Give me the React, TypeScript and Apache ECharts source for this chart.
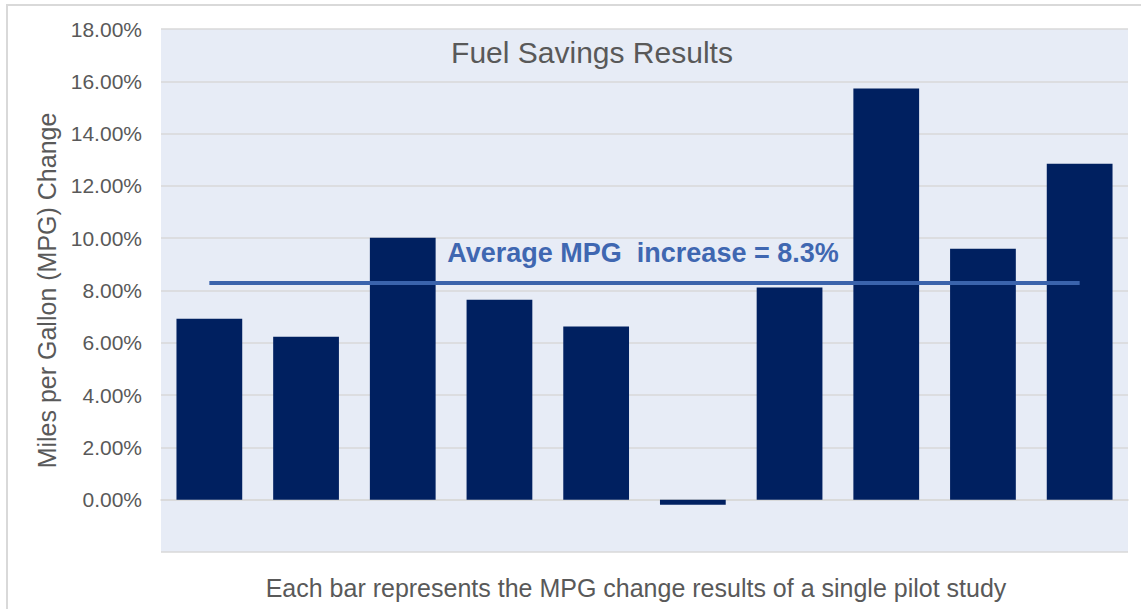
import React, { useEffect, useRef } from "react";
import * as echarts from "echarts";

const categories = ["1", "2", "3", "4", "5", "6", "7", "8", "9", "10"];
const mpgChange = [0.0692, 0.0623, 0.1002, 0.0765, 0.0662, -0.0019, 0.0811, 0.1572, 0.096, 0.1285];
const averageIncrease = 0.083;
const yTicks = { min: -0.02, max: 0.18, interval: 0.02 };

const FONT = "'Liberation Sans', Arial, sans-serif";
const GREY = "#595959";

export default function App() {
  const ref = useRef<HTMLDivElement>(null);
  useEffect(() => {
    const chart = echarts.init(ref.current!, null, { renderer: "svg" });
    chart.setOption({
      animation: false,
      textStyle: { fontFamily: FONT },
      grid: {
        left: 161,
        right: 13,
        top: 29,
        bottom: 57,
        show: true,
        backgroundColor: "#E7ECF6",
        borderWidth: 0,
      },
      xAxis: {
        type: "category",
        data: categories,
        axisLine: { show: true, lineStyle: { color: "#D9D9D9", width: 1.5 } },
        axisTick: { show: false },
        axisLabel: { show: false },
      },
      yAxis: {
        type: "value",
        min: yTicks.min,
        max: yTicks.max,
        interval: yTicks.interval,
        axisLine: { show: false },
        axisTick: { show: false },
        splitLine: { lineStyle: { color: "#D9D9D9", width: 1.5 } },
        axisLabel: {
          color: GREY,
          fontSize: 21,
          fontFamily: FONT,
          margin: 19,
          formatter: (v: number) => (v < -0.001 ? "" : (v * 100).toFixed(2) + "%"),
        },
        name: "Miles per Gallon (MPG) Change",
        nameLocation: "middle",
        nameGap: 101,
        nameRotate: 90,
        nameTextStyle: { color: GREY, fontSize: 25, fontFamily: FONT },
      },
      series: [
        {
          type: "bar",
          data: mpgChange,
          barWidth: "68%",
          itemStyle: { color: "#002060" },
          markLine: {
            symbol: "none",
            silent: true,
            lineStyle: { color: "#3A63AC", width: 4, type: "solid" },
            label: { show: false },
            data: [
              [
                { coord: [0, averageIncrease] },
                { coord: [categories.length - 1, averageIncrease] },
              ],
            ],
          },
        },
      ],
      graphic: [
        {
          type: "rect",
          shape: { x: 7, y: 5, width: 1150, height: 620 },
          style: { fill: "none", stroke: "#D9D9D9", lineWidth: 2 },
          silent: true,
          z: -10,
        },
        {
          type: "text",
          x: 592,
          y: 52,
          style: {
            text: "Fuel Savings Results",
            fill: GREY,
            font: `30px ${FONT}`,
            textAlign: "center",
            textVerticalAlign: "middle",
          },
        },
        {
          type: "text",
          x: 643,
          y: 253,
          style: {
            text: "Average MPG  increase = 8.3%",
            fill: "#3F67B1",
            font: `bold 27px ${FONT}`,
            textAlign: "center",
            textVerticalAlign: "middle",
          },
        },
        {
          type: "text",
          x: 636,
          y: 588,
          style: {
            text: "Each bar represents the MPG change results of a single pilot study",
            fill: GREY,
            font: `25px ${FONT}`,
            textAlign: "center",
            textVerticalAlign: "middle",
          },
        },
      ],
    });
    return () => chart.dispose();
  }, []);
  return (
    <div
      ref={ref}
      style={{ position: "fixed", left: 0, top: 0, width: 1141, height: 609, background: "#fff" }}
    />
  );
}
